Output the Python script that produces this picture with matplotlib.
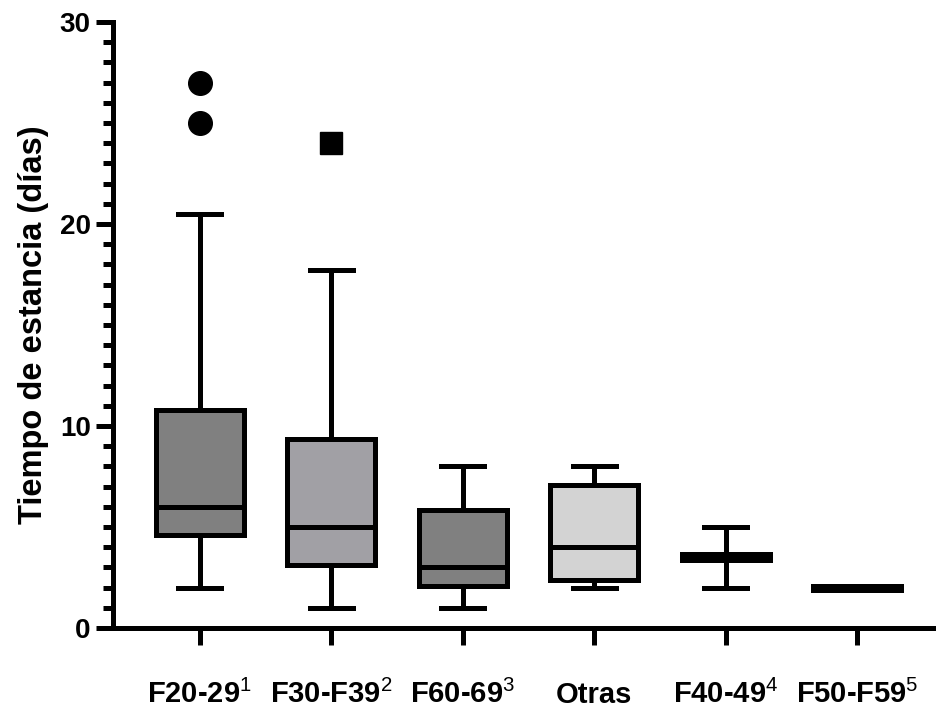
import matplotlib
matplotlib.use("Agg")
import matplotlib.pyplot as plt
from matplotlib.ticker import MultipleLocator

plt.rcParams['font.family'] = ['Liberation Sans', 'DejaVu Sans']
plt.rcParams['mathtext.fontset'] = 'custom'
plt.rcParams['mathtext.rm'] = 'Liberation Sans'
plt.rcParams['mathtext.it'] = 'Liberation Sans'

# (days)
labels = ["F20-29$^{1}$", "F30-F39$^{2}$", "F60-69$^{3}$", "Otras",
          "F40-49$^{4}$", "F50-F59$^{5}$"]
whislo = [2.0, 1.0, 1.0, 2.0, 2.0, 2.0]
q1 = [4.6, 3.1, 2.1, 2.4, 3.35, 1.9]
med = [6.0, 5.0, 3.0, 4.0, 3.5, 2.0]
q3 = [10.8, 9.35, 5.85, 7.1, 3.65, 2.1]
whishi = [20.5, 17.7, 8.0, 8.0, 5.0, 2.0]
fliers = [[27, 25], [24], [], [], [], []]
fill_colors = ["#808080", "#a1a0a5", "#808080", "#d3d3d3", "#808080", "#808080"]
flier_markers = ["o", "s", "o", "o", "o", "o"]

stats = []
for i in range(len(labels)):
    stats.append(dict(label=labels[i], whislo=whislo[i], q1=q1[i], med=med[i],
                      q3=q3[i], whishi=whishi[i], fliers=[]))

fig = plt.figure(figsize=(9.36, 7.08), dpi=100)
ax = fig.add_axes([0.1207, 0.113, 0.878, 0.856])

lw = 3.6
positions = list(range(1, len(labels) + 1))
bp = ax.bxp(stats, positions=positions, widths=0.67, patch_artist=True,
            showfliers=False,
            boxprops=dict(linewidth=lw, edgecolor="black"),
            whiskerprops=dict(linewidth=lw, color="black"),
            capprops=dict(linewidth=lw, color="black"),
            medianprops=dict(linewidth=lw, color="black"),
            capwidths=0.33)
for patch, c in zip(bp['boxes'], fill_colors):
    patch.set_facecolor(c)

# outliers drawn separately so each group keeps its own marker
for pos, vals, m in zip(positions, fliers, flier_markers):
    if vals:
        ax.plot([pos] * len(vals), vals, linestyle="none", marker=m,
                markersize=17 if m == "o" else 16, color="black",
                clip_on=False)

ax.set_xlim(0.34, 6.59)
ax.set_ylim(0, 30)
ax.yaxis.set_major_locator(MultipleLocator(10))
ax.yaxis.set_minor_locator(MultipleLocator(1))
ax.set_xticks(positions)
ax.set_xticklabels(labels, fontsize=21, fontweight="bold")
for t in ax.get_xticklabels():
    t.set_verticalalignment("baseline")

for s in ["top", "right"]:
    ax.spines[s].set_visible(False)
for s in ["left", "bottom"]:
    ax.spines[s].set_linewidth(lw)

ax.tick_params(axis="y", which="major", length=12, width=lw, labelsize=20, pad=4)
ax.tick_params(axis="y", which="minor", length=7, width=lw)
ax.tick_params(axis="x", which="major", length=12, width=lw, pad=42)
for t in ax.get_yticklabels():
    t.set_fontweight("bold")

ax.set_ylabel("Tiempo de estancia (días)", fontsize=23.5, fontweight="bold", labelpad=8)

fig.savefig("out.png", dpi=100)
